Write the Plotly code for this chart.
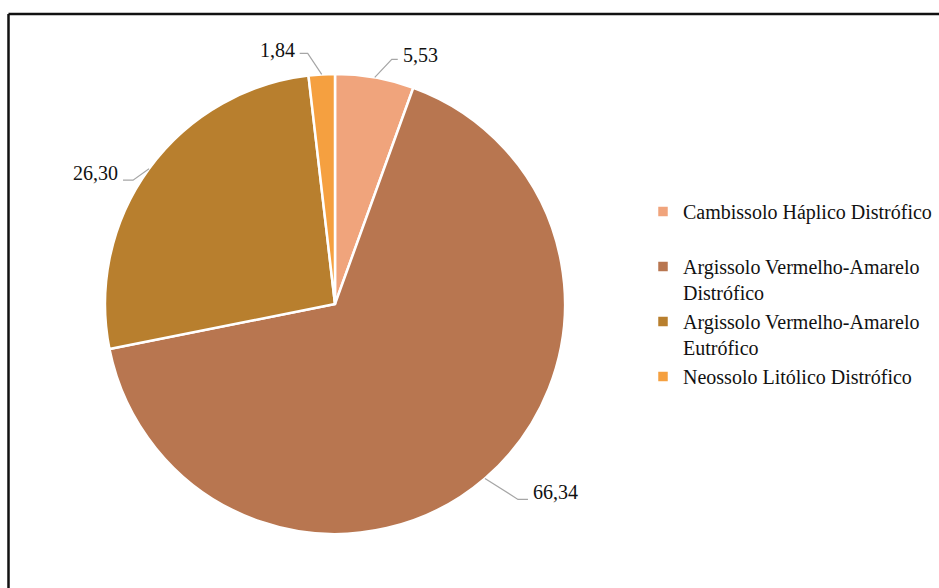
import math
import plotly.graph_objects as go

# Soil classes and their share of the area (%)
categories = [
    "Cambissolo Háplico Distrófico",
    "Argissolo Vermelho-Amarelo Distrófico",
    "Argissolo Vermelho-Amarelo Eutrófico",
    "Neossolo Litólico Distrófico",
]
legend_labels = [
    "Cambissolo Háplico Distrófico<br> ",
    "Argissolo Vermelho-Amarelo<br>Distrófico",
    "Argissolo Vermelho-Amarelo<br>Eutrófico",
    "Neossolo Litólico Distrófico",
]
values = [5.53, 66.34, 26.30, 1.84]
colors = ["#F0A47C", "#B87650", "#B87F2E", "#F5A040"]

W, H = 939, 588
FONT = "Liberation Serif, Times New Roman, serif"

# pie geometry in pixels
cx, cy, R = 335, 304, 230

# leader-line style per slice: elbow offset from the rim, horizontal run, text lift
label_style = [
    dict(dx=17, dy=-18, run=6, lift=4),
    dict(dx=33, dy=21, run=10, lift=7),
    dict(dx=-16, dy=11.5, run=-10, lift=7),
    dict(dx=-14, dy=-21, run=-8, lift=3),
]


def px(x):
    return x / W


def py(y):
    return 1 - y / H


fig = go.Figure(
    go.Pie(
        labels=legend_labels,
        values=values,
        sort=False,
        direction="clockwise",
        rotation=0,
        marker=dict(colors=colors, line=dict(color="white", width=2.5)),
        textinfo="none",
        hovertext=categories,
        hoverinfo="text+value",
        domain=dict(x=[px(cx - R), px(cx + R)], y=[py(cy + R), py(cy - R)]),
    )
)

# outside value labels with elbow leader lines, placed from each slice's mid-angle
total = sum(values)
cum = 0.0
shapes = []
annotations = []
for v, st in zip(values, label_style):
    theta = 2 * math.pi * (cum + v / 2) / total
    cum += v
    ex, ey = cx + R * math.sin(theta), cy - R * math.cos(theta)
    bx, by = ex + st["dx"], ey + st["dy"]
    tx = bx + st["run"]
    shapes.append(dict(
        type="path", xref="paper", yref="paper",
        path=f"M{px(ex)},{py(ey)} L{px(bx)},{py(by)} L{px(tx)},{py(by)}",
        line=dict(color="#A6A6A6", width=1.2),
    ))
    right = st["run"] > 0
    annotations.append(dict(
        x=px(tx + (3 if right else -3)), y=py(by - st["lift"]),
        xref="paper", yref="paper",
        text=f"{v:.2f}".replace(".", ","),
        showarrow=False,
        xanchor="left" if right else "right", yanchor="middle",
        font=dict(family=FONT, size=20, color="#111111"),
    ))

# chart frame: top and left edges (the rest lies outside the page)
shapes.append(dict(
    type="line", xref="paper", yref="paper",
    x0=px(8.5), x1=1.0, y0=py(14), y1=py(14),
    line=dict(color="#111111", width=2.5),
))
shapes.append(dict(
    type="line", xref="paper", yref="paper",
    x0=px(8.5), x1=px(8.5), y0=py(14), y1=0.0,
    line=dict(color="#111111", width=2.5),
))

fig.update_layout(
    width=W, height=H,
    margin=dict(l=0, r=0, t=0, b=0),
    paper_bgcolor="white",
    plot_bgcolor="white",
    font=dict(family=FONT, size=20, color="#111111"),
    showlegend=True,
    legend=dict(
        x=px(643), y=py(192), xanchor="left", yanchor="top",
        valign="top",
        font=dict(family=FONT, size=20, color="#111111"),
        bgcolor="rgba(0,0,0,0)",
        itemclick=False, itemdoubleclick=False,
    ),
    shapes=shapes,
    annotations=annotations,
)

fig.write_html("out.html", config=dict(displayModeBar=False))
